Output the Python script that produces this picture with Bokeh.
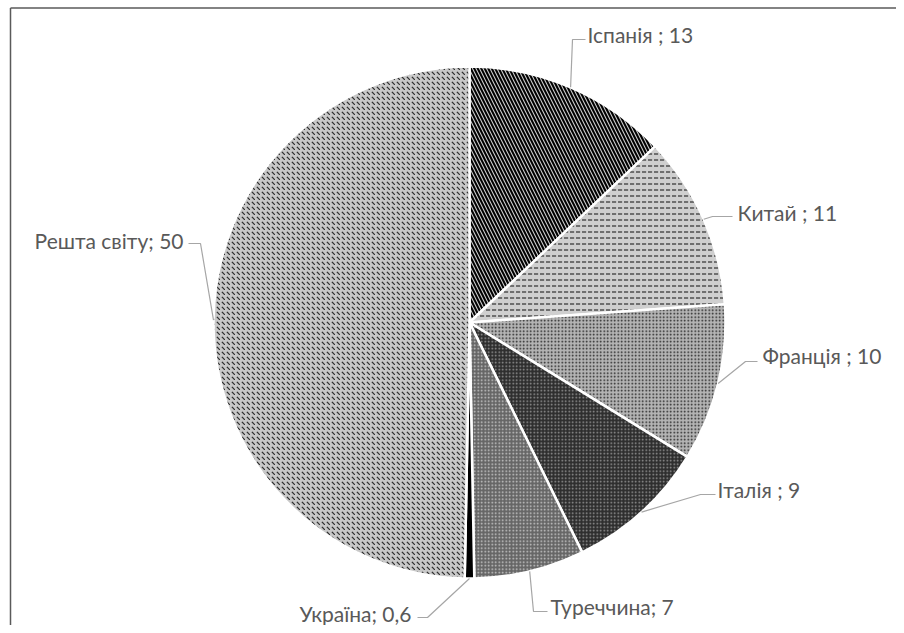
import math
from bokeh.plotting import figure
from bokeh.models import ColumnDataSource, Range1d
from bokeh.core.properties import value
from bokeh.embed import file_html
from bokeh.resources import INLINE

# ---- data ----
countries = ["Іспанія", "Китай", "Франція", "Італія", "Туреччина", "Україна", "Решта світу"]
shares = [13, 11, 10, 9, 7, 0.6, 50]
label_texts = ["Іспанія ; 13", "Китай ; 11", "Франція ; 10", "Італія ; 9",
               "Туреччина; 7", "Україна; 0,6", "Решта світу; 50"]

# ---- styles ----
fills = ["#cacaca", "#cfcfcf", "#b4b4b4", "#2e2e2e", "#666666", "#000000", "#c8c8c8"]
hatches = ["\\", '"', ".", ".", ".", " ", "`"]
hatch_colors = ["#000000", "#3a3a3a", "#1e1e1e", "#9a9a9a", "#cccccc", "#000000", "#303030"]
hatch_scales = [7, 6, 3.5, 3.5, 3.5, 1, 5]
hatch_weights = [2.0, 1.3, 1.8, 1.4, 1.3, 1, 1.2]

W, H = 896, 625
def px(x):  # page px -> data
    return x
def py(y):
    return H - y

cx, cy, R = px(469), py(322), 256

total = sum(shares)
starts, ends, mids = [], [], []
acc = 0.0
for v in shares:
    a0 = math.pi / 2 - acc / total * 2 * math.pi
    acc += v
    a1 = math.pi / 2 - acc / total * 2 * math.pi
    starts.append(a0); ends.append(a1); mids.append((a0 + a1) / 2)

src = ColumnDataSource(dict(start=starts, end=ends, fill=fills, hatch=hatches,
                            hcol=hatch_colors, hscale=hatch_scales, hw=hatch_weights))

p = figure(width=W, height=H, output_backend="svg", toolbar_location=None,
           x_range=Range1d(0, W), y_range=Range1d(0, H), min_border=0)
p.axis.visible = False
p.grid.visible = False
p.outline_line_color = None
p.background_fill_color = "white"

p.wedge(x=cx, y=cy, radius=R, start_angle="start", end_angle="end", direction="clock",
        fill_color="fill", hatch_pattern="hatch", hatch_color="hcol", hatch_scale="hscale",
        hatch_weight="hw", line_color="white", line_width=2.5, source=src)

# frame (top and left only visible in the reference)
p.segment(x0=[px(10), px(10)], y0=[py(7.5), py(7.5)], x1=[px(10), W], y1=[0, py(7.5)],
          line_color="#5a5a5a", line_width=1.5)

# label layout (page pixels): elbow, end of leader, text anchor, alignment
elbows = [(572, 39), (712, 216), (745, 361), (700, 494), (533, 611), (427, 617), (200, 243)]
ends_ = [(585, 39), (732, 216), (757, 361), (715, 494), (547, 611), (417, 617), (188, 243)]
anchors = [(587, 34), (737, 212), (762, 355), (717, 489), (550, 606), (411, 613), (183, 240)]
aligns = ["left", "left", "left", "left", "left", "right", "right"]

lx, ly = [], []
for m, e, f in zip(mids, elbows, ends_):
    sx = cx + R * math.cos(m)
    sy = cy + R * math.sin(m)
    lx.append([sx, px(e[0]), px(f[0])])
    ly.append([sy, py(e[1]), py(f[1])])
p.multi_line(xs=lx, ys=ly, line_color="#a6a6a6", line_width=1.2)

tsrc = ColumnDataSource(dict(x=[px(a[0]) for a in anchors], y=[py(a[1]) for a in anchors],
                             t=label_texts, al=aligns))
p.text(x="x", y="y", text="t", text_align="al", text_baseline="middle",
       text_font=value("Lato"), text_font_size="21px", text_color="#595959", source=tsrc)

open("out.html", "w").write(file_html(p, INLINE))
